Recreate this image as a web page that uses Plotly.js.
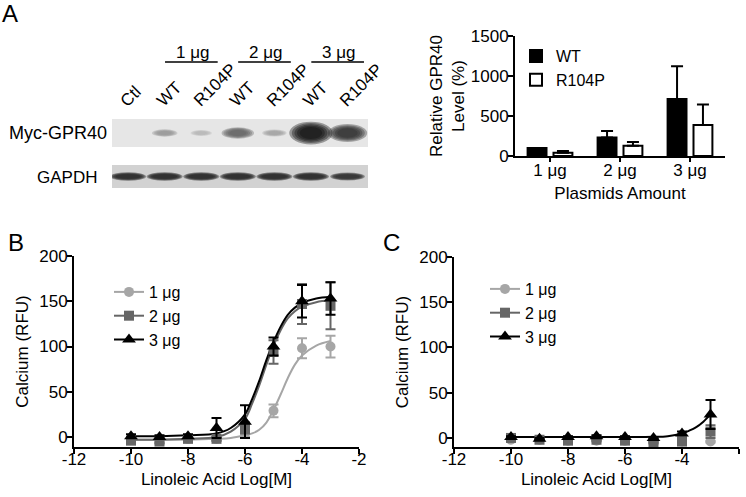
<!DOCTYPE html>
<html><head><meta charset="utf-8">
<script src="https://cdn.plot.ly/plotly-3.0.1.min.js"></script>
<style>html,body{margin:0;padding:0;background:#fff}#chart{width:746px;height:497px}</style>
</head><body><div id="chart"></div>
<script>
// ---------- data ----------
const laneLabels = ['Ctl', 'WT', 'R104P', 'WT', 'R104P', 'WT', 'R104P'];
const mycBand = [0, 0.35, 0.2, 0.6, 0.3, 1.0, 0.85];
const gapdhBand = [0.85, 0.85, 0.85, 0.85, 0.85, 0.85, 0.8];
const groupLabels = ['1 μg', '2 μg', '3 μg'];

const plasmidCats = ['1 μg', '2 μg', '3 μg'];
const wtLevel = [100, 232, 712];
const wtErr = [0, 80, 410];
const mutLevel = [42, 129, 387];
const mutErr = [20, 46, 258];

const doses = [-10, -9, -8, -7, -6, -5, -4, -3];
const doseTicks = [-12, -10, -8, -6, -4, -2];
const doseTickText = ['-12', '-10', '-8', '-6', '-4', '-2'];
const seriesNames = ['1 μg', '2 μg', '3 μg'];

const b1 = [-3, -4, -2, -2, 4, 29, 98, 100];
const b1Err = [2, 2, 2, 2, 4, 7, 11, 12];
const b2 = [-4, -5, -2, -2, 10, 94, 147, 145];
const b2Err = [2, 2, 2, 2, 6, 13, 22, 26];
const b3 = [1, 0, 1, 10, 17, 100, 150, 153];
const b3Err = [2, 2, 2, 11, 18, 10, 18, 18];

const fitX = [-10, -9, -8, -7, -6.5, -6, -5.75, -5.5, -5.25, -5, -4.75, -4.5, -4.25, -4, -3.5, -3];
const bFit1 = [-3, -3, -3, -2, -1, 2, 4, 8, 16, 30, 47, 65, 80, 90, 101, 106];
const bFit2 = [-3, -3, -2, 0, 6, 20, 37, 57, 80, 101, 118, 131, 139, 144, 149, 151];
const bFit3 = [1, 1, 2, 4, 10, 25, 42, 62, 85, 105, 122, 135, 143, 148, 153, 155];

const c1 = [-2, -2, -3, -3, -3, -4, -4, -4];
const c1Err = [1, 1, 1, 1, 1, 1, 1, 1];
const c2 = [0, -2, -3, -2, -3, -5, -4, 7];
const c2Err = [1, 1, 1, 1, 1, 1, 2, 7];
const c3 = [1, -1, 1, 2, 1, 0, 5, 26];
const c3Err = [1, 1, 1, 1, 1, 1, 2, 16];
const cFitX = [-10, -9, -8, -7, -6, -5, -4.5, -4, -3.75, -3.5, -3.25, -3];
const cFit3 = [1, 1, 1, 1, 1, 1.2, 2, 5, 8, 12, 18, 26];

// ---------- helpers ----------
const W = 746, H = 497;
const FONT = 'Liberation Sans, Arial, Helvetica, sans-serif';
const px = v => v / W;
const py = v => 1 - v / H;
const colors = ['#a6a6a6', '#666666', '#000000'];
const symbols = ['circle', 'square', 'triangle-up'];

const traces = [];

// bar chart (panel A right)
traces.push({
  type: 'bar', x: plasmidCats, y: wtLevel, name: 'WT', xaxis: 'x', yaxis: 'y',
  marker: {color: '#000', line: {color: '#000', width: 2}},
  error_y: {type: 'data', array: wtErr, arrayminus: wtErr.map(() => 0), symmetric: false, color: '#000', thickness: 2, width: 6},
  legend: 'legend'
});
traces.push({
  type: 'bar', x: plasmidCats, y: mutLevel, name: 'R104P', xaxis: 'x', yaxis: 'y',
  marker: {color: '#fff', line: {color: '#000', width: 2}},
  error_y: {type: 'data', array: mutErr, arrayminus: mutErr.map(() => 0), symmetric: false, color: '#000', thickness: 2, width: 6},
  legend: 'legend'
});

// panel B & C
function addDose(ax, ay, legendId, pts, errs, fits) {
  for (let k = 0; k < 3; k++) {
    if (fits[k]) {
      traces.push({type: 'scatter', mode: 'lines', x: fits[k][0], y: fits[k][1], xaxis: ax, yaxis: ay,
        line: {color: colors[k], width: 2, shape: 'spline'}, showlegend: false, hoverinfo: 'skip'});
    }
  }
  for (let k = 0; k < 3; k++) {
    traces.push({type: 'scatter', mode: 'markers', x: doses, y: pts[k], xaxis: ax, yaxis: ay,
      marker: {color: colors[k], symbol: symbols[k], size: k === 2 ? 12 : 10},
      error_y: {type: 'data', array: errs[k], color: colors[k], thickness: 2, width: 5},
      showlegend: false, cliponaxis: false});
  }
  for (let k = 0; k < 3; k++) {
    traces.push({type: 'scatter', mode: 'lines+markers', x: [null], y: [null], xaxis: ax, yaxis: ay,
      name: seriesNames[k], legend: legendId,
      marker: {color: colors[k], symbol: symbols[k], size: k === 2 ? 12 : 10},
      line: {color: colors[k], width: 2}});
  }
}
addDose('x2', 'y2', 'legend2', [b1, b2, b3], [b1Err, b2Err, b3Err],
  [[fitX, bFit1], [fitX, bFit2], [fitX, bFit3]]);
addDose('x3', 'y3', 'legend3', [c1, c2, c3], [c1Err, c2Err, c3Err],
  [null, null, [cFitX, cFit3]]);

// ---------- shapes (blot) ----------
const shapes = [];
const laneRange = [-0.44, 6.56];
shapes.push({type: 'rect', xref: 'x4', yref: 'y4', x0: laneRange[0], x1: laneRange[1], y0: -1, y1: 1,
  fillcolor: '#e6e6e6', line: {width: 0}, layer: 'below'});
shapes.push({type: 'rect', xref: 'x5', yref: 'y5', x0: laneRange[0], x1: laneRange[1], y0: -1, y1: 1,
  fillcolor: '#d2d2d2', line: {width: 0}, layer: 'below'});

function grey(level) { const g = Math.max(0, Math.min(255, Math.round(level))); return `rgb(${g},${g},${g})`; }
const layers = [1.25, 1.1, 0.95, 0.8, 0.65];
mycBand.forEach((I, i) => {
  if (I < 0.02) return;
  const w = 0.35 + 0.6 * I, h = 0.3 + 1.0 * I * I;
  const col = grey(226 * (1 - 0.95 * I));
  layers.forEach(s => shapes.push({type: 'circle', xref: 'x4', yref: 'y4',
    x0: i - w * s / 2, x1: i + w * s / 2, y0: -h * s / 2, y1: h * s / 2,
    fillcolor: col, opacity: 0.36, line: {width: 0}}));
});
gapdhBand.forEach((I, i) => {
  const w = 0.35 + 0.6 * I, h = 0.7 * I;
  const col = grey(190 * (1 - 0.95 * I));
  layers.forEach(s => shapes.push({type: 'circle', xref: 'x5', yref: 'y5',
    x0: i - w * (0.4 + 0.6 * s) / 2, x1: i + w * (0.4 + 0.6 * s) / 2, y0: -h * s / 2, y1: h * s / 2,
    fillcolor: col, opacity: 0.4, line: {width: 0}}));
});
// group underlines
groupLabels.forEach((g, j) => {
  const c = 1.5 + 2 * j + 0.23;
  shapes.push({type: 'line', xref: 'x4', yref: 'paper', x0: c - 0.72, x1: c + 0.72,
    y0: py(62), y1: py(62), line: {color: '#000', width: 1.5}});
});

// ---------- annotations ----------
const ann = [];
const letter = (t, x, y) => ann.push({text: t, xref: 'paper', yref: 'paper', x: px(x), y: py(y),
  xanchor: 'left', yanchor: 'middle', showarrow: false, font: {size: 24, color: '#000', family: FONT}});
letter('A', 0, 14);
letter('B', 6, 242);
letter('C', 381, 242);
laneLabels.forEach((t, i) => ann.push({text: t, xref: 'x4', yref: 'paper', x: i - 0.4, y: py(113),
  xanchor: 'left', yanchor: 'bottom', textangle: -45, showarrow: false,
  font: {size: 17, color: '#000', family: FONT}}));
groupLabels.forEach((g, j) => ann.push({text: g, xref: 'x4', yref: 'paper', x: 1.5 + 2 * j + 0.25, y: py(52),
  xanchor: 'center', yanchor: 'middle', showarrow: false, font: {size: 17, color: '#000', family: FONT}}));
ann.push({text: 'Myc-GPR40', xref: 'paper', yref: 'paper', x: px(109), y: py(133), xanchor: 'right', yanchor: 'middle',
  showarrow: false, font: {size: 18, color: '#000', family: FONT}});
ann.push({text: 'GAPDH', xref: 'paper', yref: 'paper', x: px(99), y: py(177), xanchor: 'right', yanchor: 'middle',
  showarrow: false, font: {size: 17, color: '#000', family: FONT}});

// ---------- layout ----------
const axisBase = {showline: true, linewidth: 2, linecolor: '#000', showgrid: false, zeroline: false,
  ticks: 'outside', ticklen: 5, tickwidth: 2, tickcolor: '#000', ticklabelstandoff: -4,
  tickfont: {size: 17, color: '#000', family: FONT}, fixedrange: true};
const xExtra = {ticklabelstandoff: -9};
const titleFont = {size: 17, color: '#000', family: FONT};
const hidden = {visible: false, showgrid: false, zeroline: false, fixedrange: true};
const legendBase = {bgcolor: 'rgba(0,0,0,0)', borderwidth: 0, font: {size: 16, color: '#000', family: FONT},
  xanchor: 'left', yanchor: 'top', tracegroupgap: 0};

const layout = {
  width: W, height: H, margin: {l: 0, r: 0, t: 0, b: 0},
  paper_bgcolor: '#fff', plot_bgcolor: 'rgba(0,0,0,0)',
  font: {family: FONT, color: '#000'},
  barmode: 'group', bargap: 0.26, bargroupgap: 0.27,
  xaxis: Object.assign({}, axisBase, {domain: [px(515), px(725)], anchor: 'y', type: 'category', ticklen: 4,
    ticklabelstandoff: -6, title: {text: 'Plasmids Amount', font: titleFont, standoff: 8}}),
  yaxis: Object.assign({}, axisBase, {domain: [py(156), py(36)], anchor: 'x', range: [0, 1500],
    tickvals: [0, 500, 1000, 1500], title: {text: 'Relative GPR40<br>Level (%)', font: titleFont, standoff: 2}}),
  xaxis2: Object.assign({}, axisBase, xExtra, {domain: [px(74), px(359)], anchor: 'y2', range: [-12, -2],
    tickvals: doseTicks, ticktext: doseTickText, title: {text: 'Linoleic Acid Log[M]', font: titleFont, standoff: 5}}),
  yaxis2: Object.assign({}, axisBase, {domain: [py(447), py(256)], anchor: 'x2', range: [-11, 200], dtick: 50,
    title: {text: 'Calcium (RFU)', font: titleFont, standoff: 6}}),
  xaxis3: Object.assign({}, axisBase, xExtra, {domain: [px(454), px(739)], anchor: 'y3', range: [-12, -2],
    tickvals: doseTicks, ticktext: doseTickText, title: {text: 'Linoleic Acid Log[M]', font: titleFont, standoff: 5}}),
  yaxis3: Object.assign({}, axisBase, {domain: [py(447), py(257)], anchor: 'x3', range: [-10, 200], dtick: 50,
    title: {text: 'Calcium (RFU)', font: titleFont, standoff: 6}}),
  xaxis4: Object.assign({}, hidden, {domain: [px(112), px(368)], anchor: 'y4', range: laneRange}),
  yaxis4: Object.assign({}, hidden, {domain: [py(147), py(119)], anchor: 'x4', range: [-1, 1]}),
  xaxis5: Object.assign({}, hidden, {domain: [px(112), px(368)], anchor: 'y5', range: laneRange}),
  yaxis5: Object.assign({}, hidden, {domain: [py(188), py(165)], anchor: 'x5', range: [-1, 1]}),
  legend: Object.assign({}, legendBase, {x: px(516), y: py(39)}),
  legend2: Object.assign({}, legendBase, {x: px(109), y: py(275)}),
  legend3: Object.assign({}, legendBase, {x: px(485), y: py(272)}),
  shapes: shapes,
  annotations: ann,
  showlegend: true
};

Plotly.newPlot('chart', traces, layout, {displayModeBar: false, staticPlot: true});
</script></body></html>
